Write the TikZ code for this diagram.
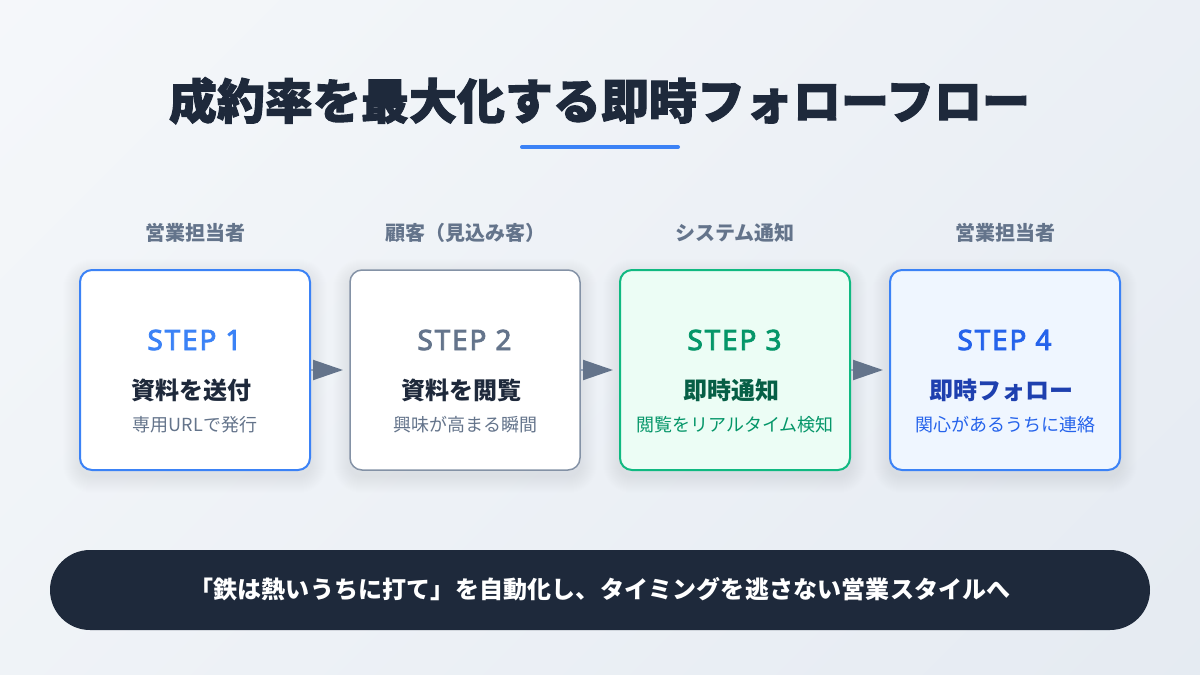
\documentclass[tikz,border=0pt]{standalone}
\usepackage{fontspec}
\usetikzlibrary{arrows.meta}
\setmainfont{Noto Sans CJK JP}
\newfontfamily\jpfont{Noto Sans CJK JP}
\newfontfamily\jpbold[BoldFeatures={FakeBold=2.0}]{Noto Sans CJK JP}
\newfontfamily\jpb{Noto Sans CJK JP}
\newfontfamily\jpspaced[LetterSpace=0.7]{Noto Sans CJK JP}
\newfontfamily\latinb[FakeBold=3,LetterSpace=6.5]{Noto Sans}
\definecolor{ink}{HTML}{1E293B}
\definecolor{slate}{HTML}{64748B}
\definecolor{slateline}{HTML}{94A3B8}
\definecolor{cardline}{HTML}{8492A6}
\definecolor{blueA}{HTML}{3B82F6}
\definecolor{blueB}{HTML}{2563EB}
\definecolor{blueC}{HTML}{1E40AF}
\definecolor{blueF}{HTML}{EFF6FF}
\definecolor{greenA}{HTML}{10B981}
\definecolor{greenB}{HTML}{059669}
\definecolor{greenC}{HTML}{065F46}
\definecolor{greenF}{HTML}{ECFDF5}
\definecolor{bgA}{HTML}{F8FAFC}
\definecolor{bgB}{HTML}{E2E8F0}
\pgfdeclarehorizontalshading{bggrad}{100bp}{color(0bp)=(bgA); color(100bp)=(bgB)}
\tikzset{
  txt/.style={inner sep=0pt,outer sep=0pt,anchor=base},
  titletxt/.style={txt,text=ink,font=\jpbold\bfseries\fontsize{48}{52}\selectfont},
  roletxt/.style={txt,text=slate,font=\jpb\bfseries\fontsize{20}{24}\selectfont},
  steptxt/.style={txt,font=\latinb\fontsize{28}{32}\selectfont},
  headtxt/.style={txt,font=\jpb\bfseries\fontsize{24}{28}\selectfont},
  subtxt/.style={txt,font=\jpfont\fontsize{18}{22}\selectfont},
  card/.style={rectangle,rounded corners=12pt,minimum width=230pt,minimum height=200pt,line width=2pt,inner sep=0pt,outer sep=1pt},
  flow/.style={line width=2pt,draw=slateline,-{Triangle[length=30pt,width=20pt,color=slate]},shorten >=0pt},
}
\newcommand{\softshadow}[1]{%
  \foreach \g in {16,15,...,0}{
    \fill[ink,opacity=0.0045,rounded corners=12pt+\g pt]
      ([xshift=-\g pt,yshift=\g pt-6pt]#1.north west) rectangle ([xshift=\g pt,yshift=-\g pt-6pt]#1.south east);
  }}
\begin{document}
\begin{tikzpicture}[x=1pt,y=-1pt]
\useasboundingbox (0,0) rectangle (1200,675);
\shade[shading=bggrad,shading angle=-45] (0,0) rectangle (1200,675);

\node[titletxt] (title) at (599.5,119) {成約率を最大化する即時フォローフロー};
\coordinate (ruleL) at (522,147);
\coordinate (ruleR) at (678,147);
\draw[blueA,line width=4pt,line cap=round] (ruleL) -- (ruleR);

\node[roletxt] (role1) at (195,240) {営業担当者};
\node[roletxt] (role2) at (465,240) {顧客（見込み客）};
\node[roletxt] (role3) at (735,240) {システム通知};
\node[roletxt] (role4) at (1005,240) {営業担当者};

\coordinate (c1) at (195,370);
\coordinate (c2) at (465,370);
\coordinate (c3) at (735,370);
\coordinate (c4) at (1005,370);

\path (c1) node[card] (s1p) {} (c2) node[card] (s2p) {} (c3) node[card] (s3p) {} (c4) node[card] (s4p) {};
\softshadow{s1p}\softshadow{s2p}\softshadow{s3p}\softshadow{s4p}

\node[card,draw=blueA,fill=white] (s1) at (c1) {};
\node[card,draw=cardline,line width=1.5pt,fill=white] (s2) at (c2) {};
\node[card,draw=greenA,fill=greenF] (s3) at (c3) {};
\node[card,draw=blueA,fill=blueF] (s4) at (c4) {};

\coordinate (tip1) at (343,370);
\coordinate (tip2) at (613,370);
\coordinate (tip3) at (883,370);
\draw[flow] (s1.east) -- (tip1);
\draw[flow] (s2.east) -- (tip2);
\draw[flow] (s3.east) -- (tip3);

\node[steptxt,text=blueA] (st1) at (194.5,350) {STEP 1};
\node[steptxt,text=slate] (st2) at (464.5,350) {STEP 2};
\node[steptxt,text=greenB] (st3) at (734.5,350) {STEP 3};
\node[steptxt,text=blueB] (st4) at (1004.5,350) {STEP 4};

\node[headtxt,text=ink] (h1) at (191,399) {資料を送付};
\node[headtxt,text=ink] (h2) at (461,399) {資料を閲覧};
\node[headtxt,text=greenC] (h3) at (731,399) {即時通知};
\node[headtxt,text=blueC] (h4) at (1001,399) {即時フォロー};

\node[subtxt,text=slate] (d1) at (195,431) {専用URLで発行};
\node[subtxt,text=slate] (d2) at (465,431) {興味が高まる瞬間};
\node[subtxt,text=greenB] (d3) at (735,431) {閲覧をリアルタイム検知};
\node[subtxt,text=blueB] (d4) at (1005,431) {関心があるうちに連絡};

\node[rectangle,rounded corners=40pt,fill=ink,minimum width=1100pt,minimum height=80pt,inner sep=0pt] (banner) at (600,590) {};
\node[txt,text=white,font=\jpspaced\bfseries\fontsize{24}{28}\selectfont] (bannertxt) at (600,598) {「鉄は熱いうちに打て」を自動化し、タイミングを逃さない営業スタイルへ};
\end{tikzpicture}
\end{document}
